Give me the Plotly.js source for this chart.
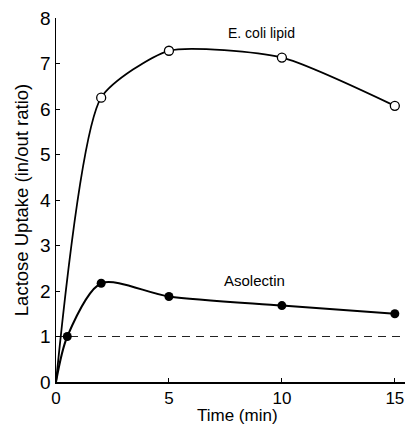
<!DOCTYPE html>
<html><head><meta charset="utf-8">
<script src="https://cdn.plot.ly/plotly-3.0.1.min.js"></script>
<style>html,body{margin:0;padding:0;background:#fff}#c{width:409px;height:426px}</style>
</head><body><div id="c"></div>
<script>
const timeEcoli = [0, 2, 5, 10, 15];
const uptakeEcoli = [0, 6.25, 7.28, 7.13, 6.07];
const timeAsolectin = [0, 0.5, 2, 5, 10, 15];
const uptakeAsolectin = [0, 1.0, 2.17, 1.88, 1.68, 1.5];
const baselineX = [0, 15.45];
const baselineY = [1, 1];
const xTicks = [0, 5, 10, 15];
const yTicks = [0, 1, 2, 3, 4, 5, 6, 7, 8];

const font = {family: 'Liberation Sans, Arial, sans-serif', color: '#000'};
const traces = [
  {x: baselineX, y: baselineY, mode: 'lines', line: {color: '#222', width: 1.2, dash: '8px,6px'}, hoverinfo: 'skip'},
  {x: timeEcoli, y: uptakeEcoli, mode: 'lines', line: {color: '#000', width: 1.8, shape: 'spline', smoothing: 0.6}},
  {x: timeEcoli.slice(1), y: uptakeEcoli.slice(1), mode: 'markers', marker: {size: 9, color: '#fff', line: {color: '#000', width: 1.3}}},
  {x: timeAsolectin, y: uptakeAsolectin, mode: 'lines', line: {color: '#000', width: 2, shape: 'spline', smoothing: 0.8}},
  {x: timeAsolectin.slice(1), y: uptakeAsolectin.slice(1), mode: 'markers', marker: {size: 9, color: '#000'}}
];
const layout = {
  width: 409, height: 426, showlegend: false,
  paper_bgcolor: '#fff', plot_bgcolor: '#fff',
  margin: {l: 56, r: 4, t: 18, b: 44},
  font: Object.assign({size: 16}, font),
  xaxis: {range: [0, 15.45], tickvals: xTicks, ticks: 'inside', ticklen: 4, tickcolor: '#000',
    showline: true, linecolor: '#000', linewidth: 1.5, showgrid: false, zeroline: false,
    tickfont: Object.assign({size: 17}, font)},
  yaxis: {range: [0, 8], tickvals: yTicks, ticks: 'inside', ticklen: 4, tickcolor: '#000',
    showline: true, linecolor: '#000', linewidth: 1.5, showgrid: false, zeroline: false,
    tickfont: Object.assign({size: 19}, font),
    title: {text: 'Lactose Uptake (in/out ratio)', font: Object.assign({size: 18.5}, font), standoff: 6}},
  annotations: [
    {x: 9.1, y: 7.66, text: 'E. coli lipid', showarrow: false, font: Object.assign({size: 14}, font)},
    {x: 8.8, y: 2.23, text: 'Asolectin', showarrow: false, font: Object.assign({size: 15}, font)},
    {xref: 'paper', yref: 'paper', x: 0.52, y: 0, yanchor: 'top', yshift: -22, text: 'Time (min)', showarrow: false, font: Object.assign({size: 17}, font)}
  ]
};
Plotly.newPlot('c', traces, layout, {displayModeBar: false, staticPlot: true});
</script></body></html>
